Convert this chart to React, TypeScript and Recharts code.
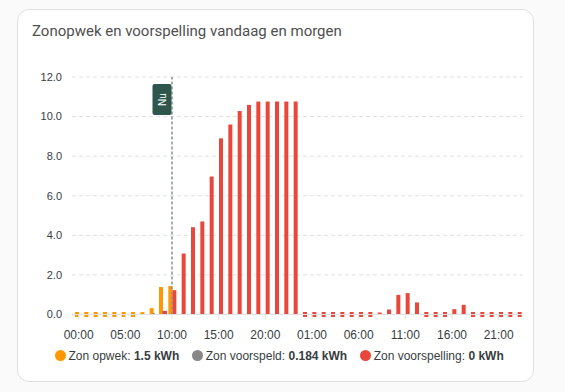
import { BarChart, Bar, XAxis, YAxis, CartesianGrid, ReferenceLine } from "recharts";

// hourly slots: today 00:00-23:00, then tomorrow 00:00-23:00
const dayHours = [
  "00:00", "01:00", "02:00", "03:00", "04:00", "05:00", "06:00", "07:00",
  "08:00", "09:00", "10:00", "11:00", "12:00", "13:00", "14:00", "15:00",
  "16:00", "17:00", "18:00", "19:00", "20:00", "21:00", "22:00", "23:00",
];
const timeLabels = [...dayHours, ...dayHours];

// kWh per hour, null = no value
const opwek = [
  0, 0, 0, 0, 0, 0, 0, 0.12, 0.32, 1.39, 1.44, null,
  null, null, null, null, null, null, null, null, null, null, null, null,
  null, null, null, null, null, null, null, null, null, null, null, null,
  null, null, null, null, null, null, null, null, null, null, null, null,
];
const voorspeld = [
  null, null, null, null, null, null, null, null, 0.08, 0.184, null, null,
  null, null, null, null, null, null, null, null, null, null, null, null,
  null, null, null, null, null, null, null, null, null, null, null, null,
  null, null, null, null, null, null, null, null, null, null, null, null,
];
const voorspelling = [
  null, null, null, null, null, null, null, null, null, 0.18, 1.23, 3.08,
  4.41, 4.7, 6.97, 8.9, 9.6, 10.28, 10.59, 10.76, 10.76, 10.76, 10.76, 10.76,
  0, 0, 0, 0, 0, 0, 0, 0, 0.1, 0.25, 0.99, 1.08,
  0.61, 0, 0, 0, 0.27, 0.49, 0, 0, 0, 0, 0, 0,
];

const yTicks = [0, 2, 4, 6, 8, 10, 12];
const nowSlot = 10;

const legendItems = [
  { name: "Zon opwek", value: "1.5 kWh", color: "#ff9800" },
  { name: "Zon voorspeld", value: "0.184 kWh", color: "#888888" },
  { name: "Zon voorspelling", value: "0 kWh", color: "#e9473b" },
];

const data = timeLabels.map((t, i) => ({
  slot: i,
  time: t,
  opwek: opwek[i],
  voorspeld: voorspeld[i],
  voorspelling: voorspelling[i],
}));

const FONT = "'Liberation Sans', Arial, Helvetica, sans-serif";

// zero values are drawn as a small marker around the baseline
function barShape(key: string) {
  return (p: any) => {
    const v = p.payload ? p.payload[key] : null;
    if (v == null) return <g />;
    if (v === 0) return <rect x={p.x} y={p.y - 2.5} width={p.width} height={5} fill={p.fill} />;
    return <rect x={p.x} y={p.y} width={p.width} height={p.height} fill={p.fill} />;
  };
}

function NuLabel(props: any) {
  const vb = props.viewBox || {};
  const x = vb.x - 19.5;
  const y = vb.y + 7;
  return (
    <g>
      <rect x={x} y={y} width={19} height={31} rx={2} fill="#2f564d" />
      <text
        x={x + 9.5}
        y={y + 15.5}
        fill="#fff"
        fontSize={10}
        fontFamily={FONT}
        textAnchor="middle"
        dominantBaseline="central"
        transform={`rotate(-90 ${x + 9.5} ${y + 15.5})`}
      >
        Nu
      </text>
    </g>
  );
}

export default function App() {
  return (
    <div style={{ position: "fixed", left: 0, top: 0, width: 565, height: 392, background: "#fafafa", overflow: "hidden" }}>
      <div
        style={{
          position: "absolute", left: 17, top: 9, width: 515, height: 371,
          border: "1px solid #e0e0e0", borderRadius: 12, background: "#fff",
        }}
      />
      <div
        style={{
          position: "absolute", left: 32, top: 21, fontFamily: "Roboto, sans-serif",
          fontSize: 15, lineHeight: "20px", color: "#505050", whiteSpace: "nowrap",
        }}
      >
        Zonopwek en voorspelling vandaag en morgen
      </div>
      <div style={{ position: "absolute", left: 0, top: 0 }}>
        <BarChart
          width={565}
          height={350}
          data={data}
          margin={{ top: 77, right: 42, left: 20, bottom: 5.5 }}
          barGap={-1}
        >
          <CartesianGrid vertical={false} stroke="#e0e0e0" strokeDasharray="4 3" />
          <XAxis
            dataKey="slot"
            type="category"
            interval={4}
            height={30}
            padding={{ left: 2, right: 1 }}
            tickFormatter={(i: number) => timeLabels[i]}
            axisLine={{ stroke: "#e0e0e0" }}
            tickLine={{ stroke: "#e0e0e0" }}
            tickSize={5}
            tickMargin={11}
            tick={{ fontSize: 12, fill: "#373d3f", fontFamily: FONT }}
          />
          <YAxis
            domain={[0, 12]}
            ticks={yTicks}
            width={52}
            axisLine={false}
            tickLine={false}
            tickSize={6}
            tickMargin={4}
            tickFormatter={(v: number) => v.toFixed(1)}
            tick={{ fontSize: 11, fill: "#373d3f", fontFamily: FONT }}
          />
          <Bar dataKey="opwek" fill="#ff9800" barSize={4} isAnimationActive={false} shape={barShape("opwek")} />
          <Bar dataKey="voorspeld" fill="#888888" barSize={2} isAnimationActive={false} shape={barShape("voorspeld")} />
          <Bar dataKey="voorspelling" fill="#e9473b" barSize={4} isAnimationActive={false} shape={barShape("voorspelling")} />
          <ReferenceLine x={nowSlot} stroke="#89948f" strokeWidth={1.5} strokeDasharray="3 2" label={NuLabel} />
        </BarChart>
      </div>
      <div
        style={{
          position: "absolute", left: 55, top: 348, height: 15, display: "flex", alignItems: "center",
          fontFamily: FONT, fontSize: 12, color: "#373d3f", whiteSpace: "nowrap",
        }}
      >
        {legendItems.map((it) => (
          <div key={it.name} style={{ display: "flex", alignItems: "center", marginRight: 13 }}>
            <span style={{ width: 11, height: 11, borderRadius: "50%", background: it.color, marginRight: 2.5, display: "inline-block" }} />
            <span>
              {it.name}: <b>{it.value}</b>
            </span>
          </div>
        ))}
      </div>
    </div>
  );
}
